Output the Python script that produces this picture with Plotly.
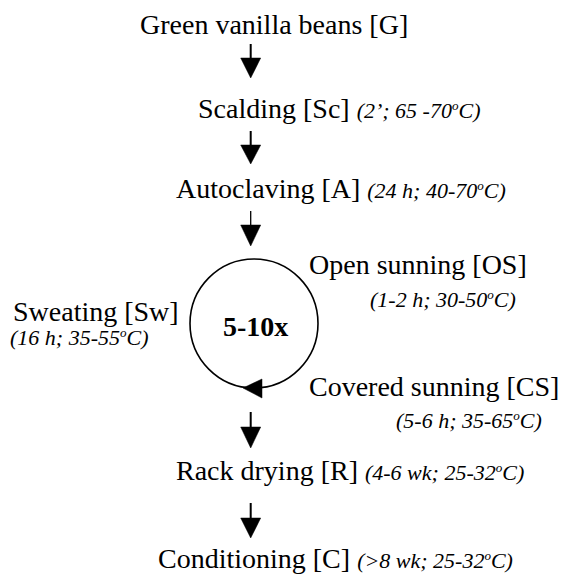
import plotly.graph_objects as go

# ---- data ----
steps = ["Green vanilla beans [G]", "Scalding [Sc]", "Autoclaving [A]",
         "Open sunning [OS]", "Sweating [Sw]", "Covered sunning [CS]",
         "Rack drying [R]", "Conditioning [C]"]
durations = ["", "2’", "24 h", "1-2 h", "16 h", "5-6 h", "4-6 wk", "&gt;8 wk"]
temps = ["", "65 -70", "40-70", "30-50", "35-55", "35-65", "25-32", "25-32"]
cycle_count = "5-10x"

# ---- layout (pixel positions) ----
W, H = 568, 574
MAIN = 28
SUB = 22
FONT = "Liberation Serif, Times New Roman, serif"

# (x_left, y_anchor, inline_condition, cond_x, cond_y)
pos = [
    (138, 24, True, None, None),
    (196, 108, True, None, None),
    (174, 188, True, None, None),
    (307, 264, False, 368, 299),
    (11, 311, False, 8, 337),
    (307, 386, False, 394, 420),
    (174, 470, True, None, None),
    (156, 558, True, None, None),
]

def cond_text(d, t):
    return (f"<i>({d}; {t}<span style='font-size:85%'><sup>o</sup></span>C)</i>")

annotations = []
for name, d, t, (x, y, inline, cx, cy) in zip(steps, durations, temps, pos):
    if d and inline:
        txt = f"{name} <span style='font-size:{SUB}px'>{cond_text(d, t)}</span>"
    else:
        txt = name
    annotations.append(dict(x=x, y=y, xref="x", yref="y", text=txt, showarrow=False,
                            xanchor="left", yanchor="middle",
                            font=dict(family=FONT, size=MAIN, color="black")))
    if d and not inline:
        annotations.append(dict(x=cx, y=cy, xref="x", yref="y", text=cond_text(d, t),
                                showarrow=False, xanchor="left", yanchor="middle",
                                font=dict(family=FONT, size=SUB, color="black")))

annotations.append(dict(x=255, y=326, xref="x", yref="y", text=f"<b>{cycle_count}</b>",
                        showarrow=False, xanchor="center", yanchor="middle",
                        font=dict(family=FONT, size=28, color="black")))

shapes = []
AX = 250.7
# vertical arrows: (line_top, head_top, tip, line_width)
arrows = [(44, 58, 78, 2), (131, 145, 164, 2), (211, 225, 246, 1.3),
          (412, 427, 448, 2), (503, 518, 538, 2)]
for top, htop, tip, lw in arrows:
    shapes.append(dict(type="line", x0=AX, x1=AX, y0=top, y1=htop + 2,
                       line=dict(color="black", width=lw)))
    shapes.append(dict(type="path",
                       path=f"M {AX-10},{htop} L {AX+10},{htop} L {AX},{tip} Z",
                       fillcolor="black", line=dict(color="black", width=0.5)))

# cycle circle
shapes.append(dict(type="circle", x0=190, x1=318, y0=259, y1=388,
                   line=dict(color="black", width=1.6)))
# arrowhead on circle (pointing left)
shapes.append(dict(type="path", path="M 243,388 L 262,379 L 262,398 Z",
                   fillcolor="black", line=dict(color="black", width=0.5)))

fig = go.Figure()
fig.update_layout(width=W, height=H, margin=dict(l=0, r=0, t=0, b=0),
                  paper_bgcolor="white", plot_bgcolor="white",
                  xaxis=dict(range=[0, W], visible=False, fixedrange=True),
                  yaxis=dict(range=[H, 0], visible=False, fixedrange=True),
                  annotations=annotations, shapes=shapes, showlegend=False)
fig.write_html("out.html", config={"displayModeBar": False},
               post_script="document.body.style.margin='0';document.body.style.overflow='hidden';")
